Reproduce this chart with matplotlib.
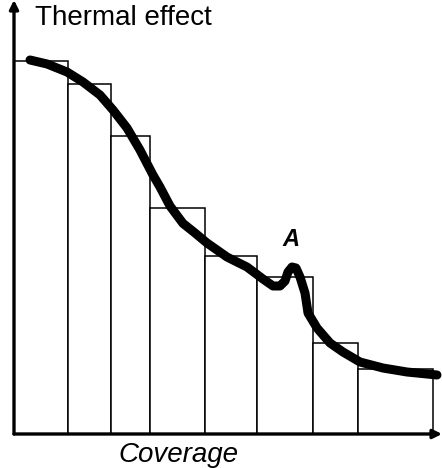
import matplotlib
matplotlib.use('Agg')
import matplotlib.pyplot as plt
import numpy as np

# histogram steps (coverage intervals) and heights of thermal effect
bar_edges = [0, 1.29, 2.32, 3.25, 4.56, 5.80, 7.14, 8.21, 10.0]
bar_heights = [10.0, 9.38, 7.99, 6.06, 4.77, 4.21, 2.44, 1.74]

# thermal effect curve with peak A
curve_x = [0.382, 0.788, 1.265, 1.647, 2.053, 2.363, 2.697, 3.007, 3.317,
           3.484, 3.723, 4.033, 4.320, 4.606, 5.084, 5.561, 5.943, 6.181,
           6.348, 6.468, 6.539, 6.635, 6.730, 6.826, 6.945, 7.017, 7.232,
           7.542, 7.852, 8.258, 8.807, 9.379, 10.095]
curve_y = [10.027, 9.920, 9.705, 9.437, 9.088, 8.686, 8.204, 7.614, 6.944,
           6.622, 6.113, 5.646, 5.389, 5.121, 4.745, 4.477, 4.155, 3.968,
           3.968, 4.102, 4.343, 4.477, 4.450, 4.209, 3.780, 3.244, 2.842,
           2.440, 2.198, 1.930, 1.769, 1.662, 1.582]

peak_label = 'A'
peak_pos = (6.635, 4.477)


def main():
    plt.rcParams['font.family'] = ['Liberation Sans', 'DejaVu Sans']
    W, H = 442, 468
    fig = plt.figure(figsize=(W / 100, H / 100), dpi=100)
    ax = fig.add_axes([14 / W, (H - 434) / H, (W - 14) / W, 434 / H])
    ax.set_xlim(0, 428 / 41.9)
    ax.set_ylim(0, 434 / 37.3)
    ax.axis('off')

    lefts = np.array(bar_edges[:-1])
    widths = np.diff(bar_edges)
    ax.bar(lefts, bar_heights, width=widths, align='edge', facecolor='white',
           edgecolor='black', linewidth=1.1, zorder=1)

    ax.plot(curve_x, curve_y, color='black', linewidth=6.5,
            solid_capstyle='round', solid_joinstyle='round', zorder=3)

    # axes with arrows
    xmax, ymax = ax.get_xlim()[1], ax.get_ylim()[1]
    arrow = dict(arrowstyle='-|>', lw=2.4, color='black', mutation_scale=13,
                 shrinkA=0, shrinkB=0)
    ax.annotate('', xy=(0, ymax), xytext=(0, 0), arrowprops=arrow,
                annotation_clip=False, zorder=4)
    ax.annotate('', xy=(xmax, 0), xytext=(0, 0), arrowprops=arrow,
                annotation_clip=False, zorder=4)

    ax.text(peak_pos[0] - 0.03, peak_pos[1] + 0.55, peak_label, fontsize=17,
            fontweight='bold', fontstyle='italic', ha='center', va='baseline')

    fig.text(35 / W, 1 - 25 / H, 'Thermal effect', fontsize=20,
             ha='left', va='baseline')
    fig.text(118 / W, 1 - 462 / H, 'Coverage', fontsize=20,
             fontstyle='italic', ha='left', va='baseline')

    fig.savefig('out.png', dpi=100, facecolor='white')


if __name__ == '__main__':
    main()
